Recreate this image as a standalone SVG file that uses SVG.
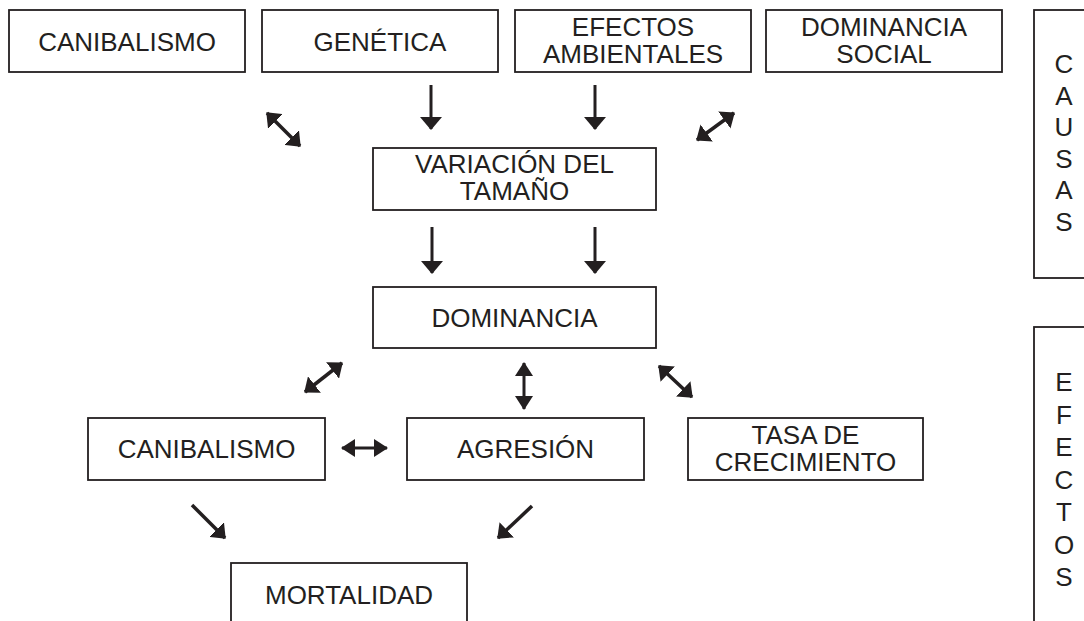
<svg xmlns="http://www.w3.org/2000/svg" width="1084" height="621" viewBox="0 0 1084 621">
<defs>
<style>
.box{fill:#fff;stroke:#231f20;stroke-width:1.8}
.t{font-family:"Liberation Sans",Arial,sans-serif;font-size:26px;fill:#231f20;text-anchor:middle}
.a{stroke:#231f20;stroke-width:3;fill:none}
.s{marker-end:url(#h)}
.d{marker-start:url(#k);marker-end:url(#k)}
.dg{marker-start:url(#g);marker-end:url(#g);stroke-width:3.5}
.sg{marker-end:url(#g);stroke-width:3.5}
</style>
<marker id="h" viewBox="0 0 13 22" refX="12" refY="11" markerWidth="13" markerHeight="22" markerUnits="userSpaceOnUse" orient="auto-start-reverse"><path d="M0,0L13,11L0,22z" fill="#231f20"/></marker>
<marker id="k" viewBox="0 0 14 18" refX="13" refY="9" markerWidth="14" markerHeight="18" markerUnits="userSpaceOnUse" orient="auto-start-reverse"><path d="M0,0L14,9L0,18z" fill="#231f20"/></marker>
<marker id="g" viewBox="0 0 13 21" refX="12" refY="10.5" markerWidth="13" markerHeight="21" markerUnits="userSpaceOnUse" orient="auto-start-reverse"><path d="M0,0L13,10.5L0,21z" fill="#231f20"/></marker>
</defs>
<rect width="1084" height="621" fill="#fff"/>
<g id="canibalismo1"><rect class="box" x="9" y="10" width="236" height="62"/><text class="t" x="127" y="51">CANIBALISMO</text></g>
<g id="genetica"><rect class="box" x="262" y="10" width="236" height="62"/><text class="t" x="380" y="51">GENÉTICA</text></g>
<g id="efectos-ambientales"><rect class="box" x="515" y="10" width="236" height="62"/><text class="t" x="633" y="36">EFECTOS</text><text class="t" x="633" y="63">AMBIENTALES</text></g>
<g id="dominancia-social"><rect class="box" x="766" y="10" width="236" height="62"/><text class="t" x="884" y="36">DOMINANCIA</text><text class="t" x="884" y="63">SOCIAL</text></g>
<g id="causas"><rect class="box" x="1034" y="10" width="100" height="268"/>
<text class="t" x="1064" y="73">C</text><text class="t" x="1064" y="104.5">A</text><text class="t" x="1064" y="136">U</text><text class="t" x="1064" y="167.5">S</text><text class="t" x="1064" y="199">A</text><text class="t" x="1064" y="230.5">S</text></g>
<g id="efectos"><rect class="box" x="1034" y="327" width="100" height="400"/>
<text class="t" x="1064" y="391">E</text><text class="t" x="1064" y="423.5">F</text><text class="t" x="1064" y="456">E</text><text class="t" x="1064" y="488.5">C</text><text class="t" x="1064" y="521">T</text><text class="t" x="1064" y="553.5">O</text><text class="t" x="1064" y="586">S</text></g>
<g id="variacion"><rect class="box" x="373" y="148" width="283" height="62"/><text class="t" x="514.5" y="173">VARIACIÓN DEL</text><text class="t" x="514.5" y="200">TAMAÑO</text></g>
<g id="dominancia"><rect class="box" x="373" y="287" width="283" height="61"/><text class="t" x="514.5" y="327">DOMINANCIA</text></g>
<g id="canibalismo2"><rect class="box" x="88" y="418" width="237" height="62"/><text class="t" x="206.5" y="458">CANIBALISMO</text></g>
<g id="agresion"><rect class="box" x="407" y="418" width="237" height="62"/><text class="t" x="525.5" y="458">AGRESIÓN</text></g>
<g id="tasa"><rect class="box" x="688" y="418" width="235" height="62"/><text class="t" x="805.5" y="444">TASA DE</text><text class="t" x="805.5" y="471">CRECIMIENTO</text></g>
<g id="mortalidad"><rect class="box" x="231" y="563" width="236" height="100"/><text class="t" x="349" y="604">MORTALIDAD</text></g>
<g id="connectors">
<line class="a s" x1="431" y1="85" x2="431" y2="129"/>
<line class="a s" x1="595" y1="85" x2="595" y2="129"/>
<line class="a dg" x1="267" y1="113" x2="300" y2="146"/>
<line class="a dg" x1="697" y1="140" x2="734" y2="113"/>
<line class="a s" x1="432" y1="227" x2="432" y2="273"/>
<line class="a s" x1="595" y1="227" x2="595" y2="273"/>
<line class="a dg" x1="305" y1="392" x2="342" y2="363"/>
<line class="a d" x1="524" y1="363" x2="524" y2="409"/>
<line class="a dg" x1="659" y1="366" x2="692" y2="397"/>
<line class="a d" x1="342" y1="448" x2="387" y2="448"/>
<line class="a sg" x1="192" y1="505" x2="225" y2="538"/>
<line class="a sg" x1="532" y1="506" x2="498" y2="538"/>
</g>
</svg>
